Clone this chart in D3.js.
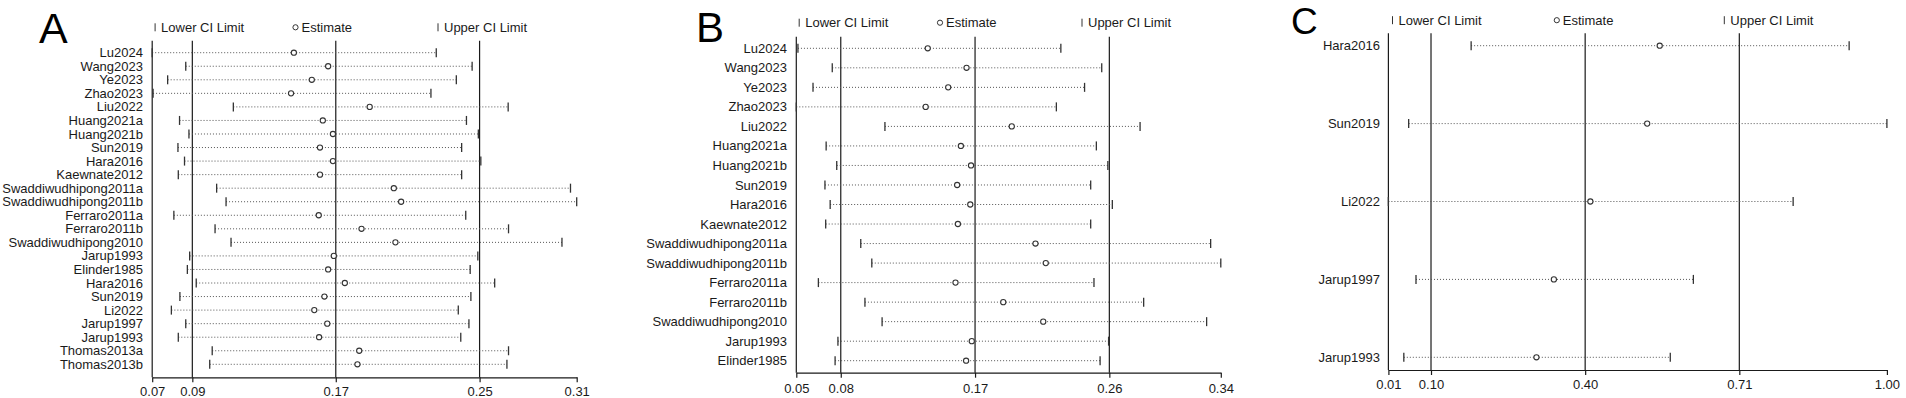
<!DOCTYPE html>
<html><head><meta charset="utf-8">
<script src="https://cdn.jsdelivr.net/npm/d3@7"></script>
<style>
html,body{margin:0;padding:0;background:#fff;}
svg{display:block;font-family:"Liberation Sans",Arial,sans-serif;}
</style></head>
<body>
<svg id="chart" width="1906" height="398"></svg>
<script>
// ---------- Panel A data ----------
const studiesA = ["Lu2024","Wang2023","Ye2023","Zhao2023","Liu2022","Huang2021a","Huang2021b","Sun2019","Hara2016","Kaewnate2012","Swaddiwudhipong2011a","Swaddiwudhipong2011b","Ferraro2011a","Ferraro2011b","Swaddiwudhipong2010","Jarup1993","Elinder1985","Hara2016","Sun2019","Li2022","Jarup1997","Jarup1993","Thomas2013a","Thomas2013b"];
const lowerA = [0.0660,0.0849,0.0747,0.0665,0.1117,0.0814,0.0867,0.0805,0.0842,0.0807,0.1023,0.1076,0.0782,0.1014,0.1104,0.0871,0.0858,0.0908,0.0816,0.0768,0.0849,0.0807,0.0998,0.0984];
const estA   = [0.1458,0.1651,0.1559,0.1442,0.1885,0.1621,0.1678,0.1605,0.1678,0.1605,0.2021,0.2062,0.1598,0.1839,0.2030,0.1683,0.1651,0.1745,0.1630,0.1573,0.1646,0.1600,0.1826,0.1816];
const upperA = [0.2260,0.2462,0.2373,0.2230,0.2665,0.2430,0.2497,0.2403,0.2511,0.2403,0.3016,0.3051,0.2426,0.2667,0.2968,0.2494,0.2451,0.2589,0.2455,0.2384,0.2444,0.2398,0.2667,0.2658];
const overallA = [0.0886,0.1694,0.2504];
const tickValsA = [0.0660,0.0886,0.1694,0.2504,0.3051];
const tickLabelsA = ["0.07","0.09","0.17","0.25","0.31"];

// ---------- Panel B data ----------
const studiesB = ["Lu2024","Wang2023","Ye2023","Zhao2023","Liu2022","Huang2021a","Huang2021b","Sun2019","Hara2016","Kaewnate2012","Swaddiwudhipong2011a","Swaddiwudhipong2011b","Ferraro2011a","Ferraro2011b","Swaddiwudhipong2010","Jarup1993","Elinder1985"];
const lowerB = [0.0531,0.0761,0.0632,0.0520,0.1114,0.0720,0.0791,0.0712,0.0747,0.0717,0.0952,0.1026,0.0668,0.0980,0.1095,0.0799,0.0780];
const estB   = [0.1401,0.1661,0.1538,0.1387,0.1964,0.1623,0.1691,0.1598,0.1686,0.1603,0.2123,0.2192,0.1587,0.1907,0.2175,0.1696,0.1658];
const upperB = [0.2293,0.2567,0.2452,0.2263,0.2824,0.2531,0.2608,0.2493,0.2638,0.2493,0.3297,0.3365,0.2515,0.2848,0.3270,0.2613,0.2556];
const overallB = [0.0818,0.1718,0.2618];
const tickValsB = [0.0520,0.0818,0.1718,0.2618,0.3365];
const tickLabelsB = ["0.05","0.08","0.17","0.26","0.34"];

// ---------- Panel C data ----------
const studiesC = ["Hara2016","Sun2019","Li2022","Jarup1997","Jarup1993"];
const lowerC = [0.1764,0.0528,0.0127,0.0673,0.0432];
const estC   = [0.5495,0.5247,0.4123,0.3401,0.3056];
const upperC = [0.9243,0.9990,0.8135,0.6161,0.5704];
const overallC = [0.097,0.402,0.707];
const tickValsC = [0.0127,0.097,0.402,0.707,0.999];
const tickLabelsC = ["0.01","0.10","0.40","0.71","1.00"];

const legendLabels = ["Lower CI Limit","Estimate","Upper CI Limit"];

// ---------- layout (positions only) ----------
const panels = [
  {letter:"A", studies:studiesA, lower:lowerA, est:estA, upper:upperA, overall:overallA, ticks:tickValsA, tickLabels:tickLabelsA,
   x0:152.2, x1:576.7, top:40.7, bottom:377.3, r0:52.7, r1:364.3, labelX:143, tickLabelY:391.5,
   letterX:39, letterY:42.7, letterSize:43, legY:27.3, leg:[155.1,295.5,438]},
  {letter:"B", studies:studiesB, lower:lowerB, est:estB, upper:upperB, overall:overallB, ticks:tickValsB, tickLabels:tickLabelsB,
   x0:796.3, x1:1220.8, top:36.7, bottom:372.7, r0:48.3, r1:360.7, labelX:787, tickLabelY:388.5,
   letterX:696, letterY:42.3, letterSize:42, legY:22.7, leg:[799.2,940,1082]},
  {letter:"C", studies:studiesC, lower:lowerC, est:estC, upper:upperC, overall:overallC, ticks:tickValsC, tickLabels:tickLabelsC,
   x0:1388.4, x1:1886.9, top:33.3, bottom:370, r0:45.7, r1:357.3, labelX:1380, tickLabelY:384,
   letterX:1291, letterY:33.5, letterSize:37, legY:20.2, leg:[1392.5,1556.8,1724.3]}
];

const svg = d3.select("#chart");
const ink = "#1a1a1a";

panels.forEach(p => {
  const g = svg.append("g");
  const x = d3.scaleLinear().domain([p.ticks[0], p.ticks[p.ticks.length-1]]).range([p.x0, p.x1]);
  const idx = d3.range(p.studies.length);
  const y = d3.scalePoint().domain(idx).range([p.r0, p.r1]);

  // panel letter
  g.append("text").attr("x", p.letterX).attr("y", p.letterY)
    .attr("font-size", p.letterSize).attr("fill", "#000").text(p.letter);

  // legend
  const lg = g.append("g").attr("font-size", 13).attr("fill", ink);
  const ly = p.legY;
  lg.append("line").attr("x1", p.leg[0]).attr("x2", p.leg[0]).attr("y1", ly-4).attr("y2", ly+4)
    .attr("stroke", "#333").attr("stroke-width", 1);
  lg.append("text").attr("x", p.leg[0]+6).attr("y", ly).attr("dy", "0.35em").text(legendLabels[0]);
  lg.append("circle").attr("cx", p.leg[1]).attr("cy", ly).attr("r", 2.6)
    .attr("fill", "#fff").attr("stroke", "#333").attr("stroke-width", 1);
  lg.append("text").attr("x", p.leg[1]+6).attr("y", ly).attr("dy", "0.35em").text(legendLabels[1]);
  lg.append("line").attr("x1", p.leg[2]).attr("x2", p.leg[2]).attr("y1", ly-4).attr("y2", ly+4)
    .attr("stroke", "#333").attr("stroke-width", 1);
  lg.append("text").attr("x", p.leg[2]+6).attr("y", ly).attr("dy", "0.35em").text(legendLabels[2]);

  // left axis line
  g.append("line").attr("x1", p.x0).attr("x2", p.x0).attr("y1", p.top).attr("y2", p.bottom)
    .attr("stroke", ink).attr("stroke-width", 1.2);

  // overall reference lines
  g.selectAll("line.ref").data(p.overall).join("line").attr("class", "ref")
    .attr("x1", d => x(d)).attr("x2", d => x(d)).attr("y1", p.top).attr("y2", p.bottom)
    .attr("stroke", ink).attr("stroke-width", 1.2);

  // bottom axis
  const axis = d3.axisBottom(x).tickValues(p.ticks).tickSize(5).tickSizeOuter(0)
    .tickFormat((d, i) => p.tickLabels[i]);
  const ag = g.append("g").attr("transform", `translate(0,${p.bottom})`).call(axis);
  ag.select(".domain").attr("stroke", ink).attr("stroke-width", 1.2);
  ag.selectAll(".tick line").attr("stroke", ink).attr("stroke-width", 1.2);
  ag.selectAll(".tick text").attr("font-size", 13).attr("fill", ink)
    .attr("font-family", '"Liberation Sans",Arial,sans-serif')
    .attr("y", p.tickLabelY - p.bottom).attr("dy", "0.35em");

  // study labels
  g.selectAll("text.lab").data(idx).join("text").attr("class", "lab")
    .attr("x", p.labelX).attr("y", i => y(i)).attr("dy", "0.35em")
    .attr("text-anchor", "end").attr("font-size", 13).attr("fill", ink)
    .text(i => p.studies[i]);

  // dotted CI lines
  g.selectAll("line.ci").data(idx).join("line").attr("class", "ci")
    .attr("x1", i => x(p.lower[i])).attr("x2", i => x(p.upper[i]))
    .attr("y1", i => y(i)).attr("y2", i => y(i))
    .attr("stroke", "#555").attr("stroke-width", 1).attr("stroke-dasharray", "1,2");

  // lower / upper ticks
  g.selectAll("line.lo").data(idx).join("line").attr("class", "lo")
    .attr("x1", i => x(p.lower[i])).attr("x2", i => x(p.lower[i]))
    .attr("y1", i => y(i) - 4.5).attr("y2", i => y(i) + 4.5)
    .attr("stroke", "#333").attr("stroke-width", 1.3);
  g.selectAll("line.up").data(idx).join("line").attr("class", "up")
    .attr("x1", i => x(p.upper[i])).attr("x2", i => x(p.upper[i]))
    .attr("y1", i => y(i) - 4.5).attr("y2", i => y(i) + 4.5)
    .attr("stroke", "#333").attr("stroke-width", 1.3);

  // estimates
  g.selectAll("circle.est").data(idx).join("circle").attr("class", "est")
    .attr("cx", i => x(p.est[i])).attr("cy", i => y(i)).attr("r", 2.6)
    .attr("fill", "#fff").attr("stroke", "#333").attr("stroke-width", 1.1);
});
</script>
</body></html>
